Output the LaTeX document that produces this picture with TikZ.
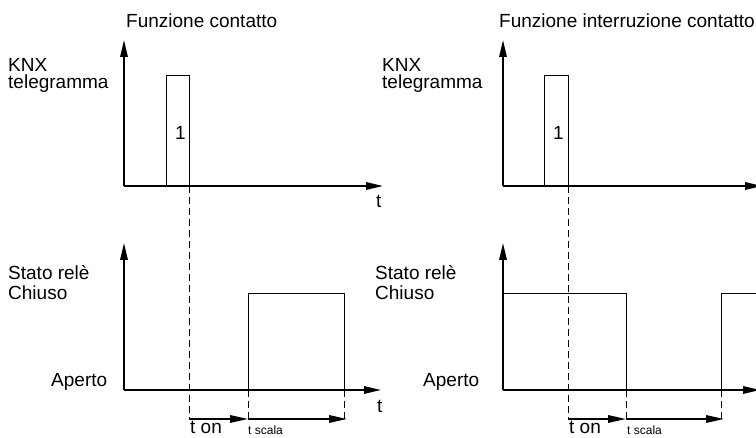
\documentclass[tikz,border=0pt]{standalone}
\usepackage{fontspec}
\setmainfont{Liberation Sans}
\usetikzlibrary{arrows.meta}
\begin{document}
\begin{tikzpicture}[x=1pt,y=-1pt,
  axis/.style={line width=1.6pt, -{Triangle[length=17pt,width=7.5pt]}},
  sig/.style={line width=1pt},
  guide/.style={line width=1pt, dash pattern=on 7pt off 4pt},
  tarrow/.style={line width=1.6pt, -{Triangle[length=18pt,width=7.5pt]}},
  lbl/.style={font=\fontsize{19}{21}\selectfont, inner sep=0pt, anchor=base west},
  small/.style={font=\fontsize{12}{13}\selectfont, inner sep=0pt, anchor=base west}]
\clip (0,0) rectangle (756,438);
\useasboundingbox (0,0) rectangle (756,438);
% ---------- left diagram ----------
\coordinate (LO1) at (124,186);
\coordinate (LY1) at (124,40);
\coordinate (LX1) at (383,186);
\coordinate (LO2) at (124,390);
\coordinate (LY2) at (124,243);
\coordinate (LX2) at (381,390);
\draw[axis] (LO1) -- (LY1);
\draw[axis] (LO1) -- (LX1);
\draw[axis] (LO2) -- (LY2);
\draw[axis] (LO2) -- (LX2);
\coordinate (LPa) at (166,186);
\coordinate (LPb) at (166,76);
\coordinate (LPc) at (189,76);
\coordinate (LPd) at (189,186);
\draw[sig] (LPa) -- (LPb) -- (LPc) -- (LPd);
\coordinate (LWa) at (248,390);
\coordinate (LWb) at (248,294);
\coordinate (LWc) at (344,294);
\coordinate (LWd) at (344,390);
\draw[sig] (LWa) -- (LWb) -- (LWc) -- (LWd);
\coordinate (LG1) at (189,419);
\coordinate (LG2) at (248,419);
\coordinate (LG3) at (344,419);
\coordinate (LG3e) at (347,419);
\draw[guide] (LPd) -- ([yshift=-1pt]LG1);
\draw[guide] (LWa) -- ([yshift=-1pt]LG2);
\draw[guide] (LWd) -- ([yshift=-1pt]LG3);
\draw[tarrow] (LG1) -- (LG2);
\draw[tarrow] (LG2) -- (LG3e);
\node[lbl] (ltitle) at (126,28) {Funzione contatto};
\node[lbl] (lknx) at (8,71.5) {KNX};
\node[lbl] (ltel) at (8,89) {telegramma};
\node[lbl] (lstato) at (8,280) {Stato relè};
\node[lbl] (lchiuso) at (8,300) {Chiuso};
\node[lbl] (laperto) at (51,387) {Aperto};
\node[lbl] (lone) at (175,140) {1};
\node[lbl] (lt1) at (376,208) {t};
\node[lbl] (lt2) at (377,413) {t};
\node[lbl] (lton) at (190,434) {t on};
\node[small] (ltsc) at (248,435) {t scala};
% ---------- right diagram ----------
\coordinate (RO1) at (503,186);
\coordinate (RY1) at (503,40);
\coordinate (RX1) at (762,186);
\coordinate (RO2) at (503,390);
\coordinate (RY2) at (503,243);
\coordinate (RX2) at (760,390);
\draw[axis] (RO1) -- (RY1);
\draw[axis] (RO1) -- (RX1);
\draw[axis] (RO2) -- (RY2);
\draw[axis] (RO2) -- (RX2);
\coordinate (RPa) at (544,186);
\coordinate (RPb) at (544,76);
\coordinate (RPc) at (568,76);
\coordinate (RPd) at (568,186);
\draw[sig] (RPa) -- (RPb) -- (RPc) -- (RPd);
\coordinate (RWa) at (503,294);
\coordinate (RWb) at (626,294);
\coordinate (RWc) at (626,390);
\coordinate (RWd) at (721,390);
\coordinate (RWe) at (721,294);
\coordinate (RWf) at (770,294);
\draw[sig] (RWa) -- (RWb) -- (RWc);
\draw[sig] (RWd) -- (RWe) -- (RWf);
\coordinate (RG1) at (568,419);
\coordinate (RG2) at (626,419);
\coordinate (RG3) at (721,419);
\coordinate (RG3e) at (724,419);
\draw[guide] (RPd) -- ([yshift=-1pt]RG1);
\draw[guide] (RWc) -- ([yshift=-1pt]RG2);
\draw[guide] (RWd) -- ([yshift=-1pt]RG3);
\draw[tarrow] (RG1) -- (RG2);
\draw[tarrow] (RG2) -- (RG3e);
\node[lbl] (rtitle) at (499,28) {Funzione interruzione contatto};
\node[lbl] (rknx) at (382,71.5) {KNX};
\node[lbl] (rtel) at (382,89) {telegramma};
\node[lbl] (rstato) at (375,280) {Stato relè};
\node[lbl] (rchiuso) at (375,300) {Chiuso};
\node[lbl] (raperto) at (423,387) {Aperto};
\node[lbl] (rone) at (553,140) {1};
\node[lbl] (rton) at (569,434) {t on};
\node[small] (rtsc) at (627,435) {t scala};
\end{tikzpicture}
\end{document}
